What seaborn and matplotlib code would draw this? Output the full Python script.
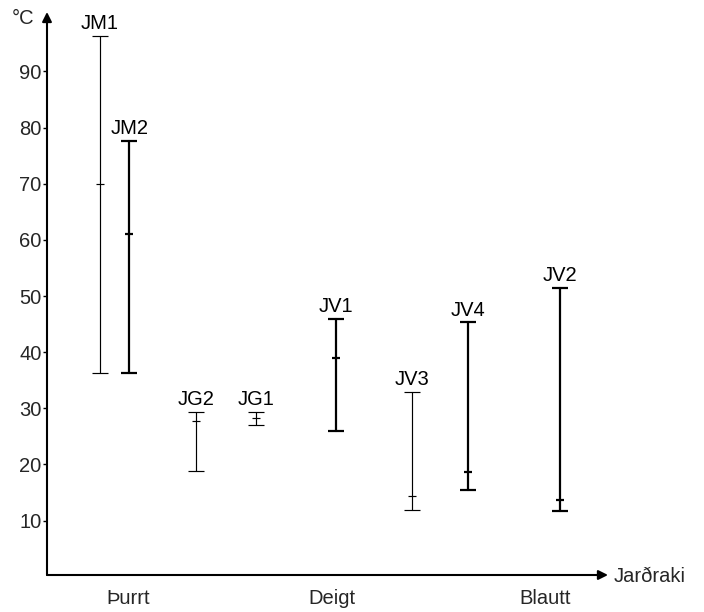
import matplotlib
matplotlib.use("Agg")
import matplotlib.pyplot as plt
import seaborn as sns
import pandas as pd

# ---- data ----
samples = ["JM1", "JM2", "JG2", "JG1", "JV1", "JV3", "JV4", "JV2"]
moisture = [9.4, 14.7, 26.5, 37.3, 51.5, 65.0, 75.0, 91.5]   # position along the soil-moisture axis
t_min = [36.3, 36.3, 18.9, 27.0, 25.9, 11.8, 15.5, 11.7]
t_mean = [70.0, 61.0, 27.8, 28.3, 38.9, 14.4, 18.7, 13.6]
t_max = [96.3, 77.6, 29.4, 29.3, 45.9, 32.9, 45.3, 51.5]
heavy = [False, True, False, False, True, False, True, True]
moisture_classes = ["Þurrt", "Deigt", "Blautt"]
class_pos = [14.5, 50.8, 88.8]
yticks = [10, 20, 30, 40, 50, 60, 70, 80, 90]

sns.set_theme(style="white")
plt.rcParams["font.family"] = ["Liberation Sans", "DejaVu Sans"]
FS = 14.5

rows = []
for s, x, lo, hi, h in zip(samples, moisture, t_min, t_max, heavy):
    w = "thick" if h else "thin"
    rows.append(dict(sample=s, x=x, y=lo, w=w))
    rows.append(dict(sample=s, x=x, y=hi, w=w))
lines = pd.DataFrame(rows)
caps = pd.DataFrame(dict(sample=samples * 2, x=moisture * 2, y=t_min + t_max,
                         w=["thick" if h else "thin" for h in heavy] * 2))
means = pd.DataFrame(dict(sample=samples, x=moisture, y=t_mean,
                          w=["thick" if h else "thin" for h in heavy]))

fig = plt.figure(figsize=(7.04, 6.12), dpi=100)
ax = fig.add_axes([47 / 704, 1 - 575 / 612, (608 - 47) / 704, (575 - 12) / 612])

widths = {"thin": 0.85, "thick": 1.6}
sns.lineplot(data=lines, x="x", y="y", units="sample", estimator=None, sort=False,
             size="w", sizes=widths, color="black", legend=False, ax=ax)
for wname, lw in widths.items():
    sub = caps[caps.w == wname]
    sns.scatterplot(data=sub, x="x", y="y", marker="_", s=120, color="black",
                    linewidth=lw, legend=False, ax=ax)
    subm = means[means.w == wname]
    sns.scatterplot(data=subm, x="x", y="y", marker="_", s=36, color="black",
                    linewidth=lw, legend=False, ax=ax)

for s, x, hi in zip(samples, moisture, t_max):
    ax.annotate(s, (x, hi), xytext=(0, 2), textcoords="offset points",
                ha="center", va="bottom", fontsize=FS, color="black")

ax.set_xlim(0, 100)
ax.set_ylim(0.3, 100.6)
for sp in ax.spines.values():
    sp.set_visible(False)
ax.set_xticks([])
ax.set_yticks(yticks)
ax.set_yticklabels([str(v) for v in yticks], fontsize=FS)
ax.tick_params(axis="y", direction="out", length=3, width=1, color="black", pad=1, left=True)
ax.set_xlabel("")
ax.set_ylabel("")

# axis arrows
ax.annotate("", xy=(0, 1), xytext=(0, 0), xycoords="axes fraction",
            arrowprops=dict(arrowstyle="-|>", color="black", lw=1.5,
                            mutation_scale=14, shrinkA=0, shrinkB=0))
ax.annotate("", xy=(1, 0), xytext=(0, 0), xycoords="axes fraction",
            arrowprops=dict(arrowstyle="-|>", color="black", lw=1.5,
                            mutation_scale=14, shrinkA=0, shrinkB=0))

for lab, xp in zip(moisture_classes, class_pos):
    ax.text(xp, -0.042, lab, transform=ax.get_xaxis_transform(), ha="center",
            va="center", fontsize=FS)

fig.text(23 / 704, 1 - 19 / 612, "°C", ha="center", va="center", fontsize=FS)
fig.text(614 / 704, 1 - 577 / 612, "Jarðraki", ha="left", va="center", fontsize=FS)

fig.savefig("out.png", dpi=100, facecolor="white")
